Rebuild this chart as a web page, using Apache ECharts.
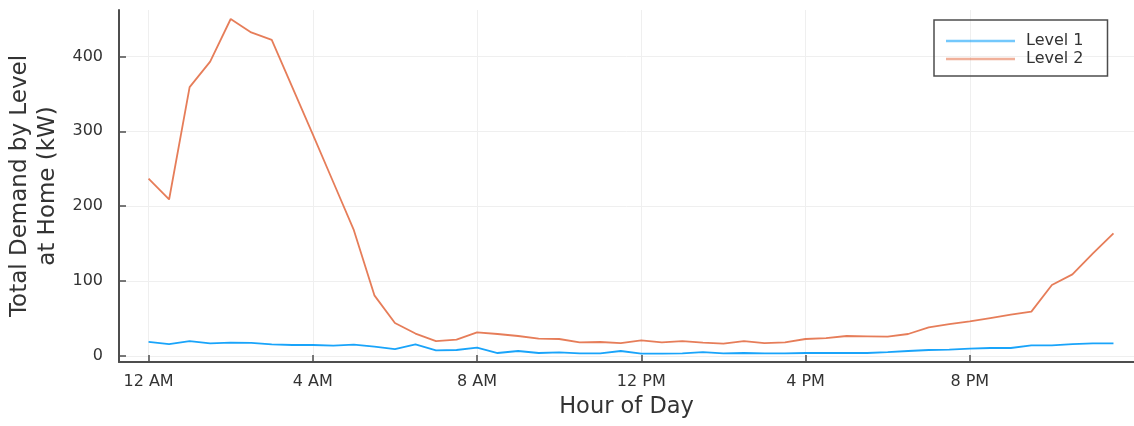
<!DOCTYPE html>
<html>
<head>
<meta charset="utf-8">
<script src="https://cdn.jsdelivr.net/npm/echarts@6/dist/echarts.min.js"></script>
<style>
  html, body { margin: 0; padding: 0; background: #fff; }
  #chart { width: 1134px; height: 426px; }
</style>
</head>
<body>
<div id="chart"></div>
<script>
// Half-hour time slots (hours after midnight)
const hours = [0, 0.5, 1, 1.5, 2, 2.5, 3, 3.5, 4, 4.5, 5, 5.5, 6, 6.5, 7, 7.5,
  8, 8.5, 9, 9.5, 10, 10.5, 11, 11.5, 12, 12.5, 13, 13.5, 14, 14.5, 15, 15.5,
  16, 16.5, 17, 17.5, 18, 18.5, 19, 19.5, 20, 20.5, 21, 21.5, 22, 22.5, 23, 23.5];

// Total home charging demand (kW) per charger level
const level1 = [19, 16, 20, 17, 18, 17.5, 15.6, 14.7, 14.7, 13.8, 15.1, 12.4, 9.3, 15.6, 7.6, 8,
  11.1, 4, 6.7, 4, 4.9, 3.6, 3.6, 6.7, 3.1, 3.1, 3.6, 5.3, 3.6, 4, 3.6, 3.6,
  4, 4, 4, 4, 5.3, 6.7, 8, 8.5, 9.8, 10.7, 10.7, 14.2, 14.2, 16, 16.9, 16.9];
const level2 = [237, 209, 359, 393, 450, 432, 422, 359, 296, 232, 168, 81, 44, 30, 20, 22,
  31.6, 29.4, 26.7, 23.1, 22.7, 18.2, 18.7, 17.3, 20.9, 18.2, 20, 17.8, 16.4, 20, 17.3, 18.2,
  22.7, 24, 26.7, 26.3, 25.8, 29.4, 38.3, 42.7, 46.3, 50.7, 55.2, 59.2, 94.8, 109, 137, 163.8];

// Axis ticks
const xTickValues = [0, 4, 8, 12, 16, 20];
const xTickLabels = ['12 AM', '4 AM', '8 AM', '12 PM', '4 PM', '8 PM'];
const yTickValues = [0, 100, 200, 300, 400];

const seriesNames = ['Level 1', 'Level 2'];
const seriesColors = ['#009AFA', '#E36F47'];

const FONT = 'DejaVu Sans';
const axisColor = '#4d4d4d';
const textColor = '#333333';
const gridColor = '#efefef';

const chart = echarts.init(document.getElementById('chart'), null, { renderer: 'canvas' });

function pairs(vals) {
  return hours.map((h, i) => [h, vals[i]]);
}

chart.setOption({
  animation: false,
  backgroundColor: '#ffffff',
  textStyle: { fontFamily: FONT },
  grid: { left: 119, right: 0, top: 10, bottom: 64, containLabel: false, outerBoundsMode: 'none' },
  legend: {
    orient: 'vertical',
    left: 934,
    top: 20,
    padding: [12, 24, 8, 12],
    borderColor: '#4d4d4d',
    borderWidth: 1.5,
    itemWidth: 69,
    itemHeight: 2.5,
    itemGap: 0,
    icon: 'rect',
    itemStyle: { opacity: 0.55 },
    textStyle: { fontFamily: FONT, fontSize: 16, lineHeight: 18, color: textColor, padding: [0, 0, 0, 6] },
    data: seriesNames
  },
  xAxis: {
    type: 'value',
    min: -0.72,
    max: 24.0,
    name: 'Hour of Day',
    nameLocation: 'middle',
    nameGap: 34,
    nameTextStyle: { fontFamily: FONT, fontSize: 22.5, color: textColor },
    axisLine: { show: true, onZero: false, lineStyle: { color: axisColor, width: 2 } },
    axisTick: { show: true, inside: true, length: 7, customValues: xTickValues, lineStyle: { color: axisColor, width: 1.5 } },
    axisLabel: {
      customValues: xTickValues,
      margin: 12,
      fontFamily: FONT, fontSize: 16, color: textColor,
      formatter: v => xTickLabels[xTickValues.indexOf(v)]
    },
    splitLine: { show: true, lineStyle: { color: gridColor, width: 1 } }
  },
  yAxis: {
    type: 'value',
    min: -8,
    max: 462,
    name: 'Total Demand by Level\nat Home (kW)',
    nameLocation: 'middle',
    nameRotate: 90,
    nameGap: 55,
    nameTextStyle: { fontFamily: FONT, fontSize: 23, color: textColor, lineHeight: 28, align: 'center' },
    axisLine: { show: true, onZero: false, lineStyle: { color: axisColor, width: 2 } },
    axisTick: { show: true, inside: true, length: 7, customValues: yTickValues, lineStyle: { color: axisColor, width: 1.5 } },
    axisLabel: {
      customValues: yTickValues,
      margin: 16,
      fontFamily: FONT, fontSize: 16, color: textColor
    },
    splitLine: { show: true, lineStyle: { color: gridColor, width: 1 } }
  },
  series: [
    {
      name: seriesNames[0],
      type: 'line',
      data: pairs(level1),
      symbol: 'none',
      color: seriesColors[0],
      lineStyle: { color: seriesColors[0], width: 1.8, opacity: 0.9 },
      z: 3
    },
    {
      name: seriesNames[1],
      type: 'line',
      data: pairs(level2),
      symbol: 'none',
      color: seriesColors[1],
      lineStyle: { color: seriesColors[1], width: 1.8, opacity: 0.9 },
      z: 3
    }
  ]
});
</script>
</body>
</html>
